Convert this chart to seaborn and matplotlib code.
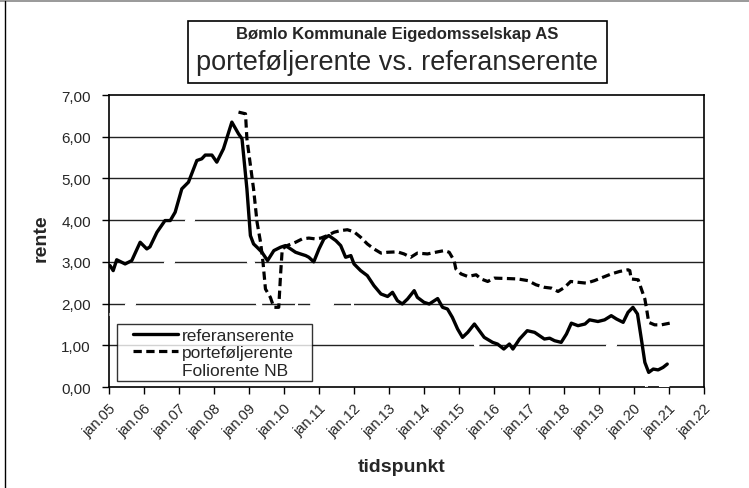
import matplotlib
matplotlib.use("Agg")
import matplotlib.pyplot as plt
from matplotlib.lines import Line2D
from matplotlib.legend_handler import HandlerLine2D
import seaborn as sns
import pandas as pd

# ---------------- data ----------------
ref_t = [2005.03, 2005.12, 2005.22, 2005.46, 2005.65, 2005.89, 2006.08, 2006.17, 2006.37, 2006.6,
         2006.75, 2006.89, 2007.08, 2007.27, 2007.51, 2007.65, 2007.75, 2007.94, 2008.08, 2008.27,
         2008.51, 2008.7, 2008.8, 2008.94, 2009.04, 2009.13, 2009.23, 2009.37, 2009.53, 2009.71,
         2009.9, 2010.04, 2010.19, 2010.33, 2010.47, 2010.62, 2010.71, 2010.85, 2011.0, 2011.14,
         2011.28, 2011.48, 2011.62, 2011.76, 2011.91, 2012.0, 2012.19, 2012.38, 2012.57, 2012.77,
         2012.96, 2013.1, 2013.24, 2013.38, 2013.53, 2013.72, 2013.81, 2014.0, 2014.15, 2014.39,
         2014.53, 2014.67, 2014.81, 2014.96, 2015.1, 2015.25, 2015.44, 2015.58, 2015.72, 2015.96,
         2016.1, 2016.28, 2016.44, 2016.54, 2016.73, 2016.95, 2017.16, 2017.3, 2017.44, 2017.59,
         2017.73, 2017.92, 2018.07, 2018.21, 2018.4, 2018.6, 2018.73, 2018.97, 2019.16, 2019.35,
         2019.5, 2019.69, 2019.83, 2019.97, 2020.1, 2020.21, 2020.31, 2020.42, 2020.55, 2020.69,
         2020.83, 2020.95]
ref_v = [2.91, 2.79, 3.05, 2.95, 3.03, 3.47, 3.31, 3.36, 3.71, 3.99,
         3.99, 4.19, 4.75, 4.91, 5.43, 5.47, 5.56, 5.56, 5.39, 5.71,
         6.35, 6.07, 5.95, 4.75, 3.63, 3.43, 3.35, 3.23, 3.03, 3.27,
         3.35, 3.39, 3.31, 3.23, 3.19, 3.15, 3.11, 3.00, 3.31, 3.55,
         3.63, 3.51, 3.39, 3.11, 3.15, 2.95, 2.79, 2.67, 2.43, 2.23,
         2.17, 2.27, 2.07, 1.99, 2.11, 2.31, 2.15, 2.03, 1.99, 2.12,
         1.91, 1.87, 1.67, 1.39, 1.19, 1.31, 1.51, 1.35, 1.19, 1.07,
         1.03, 0.91, 1.03, 0.91, 1.15, 1.35, 1.31, 1.23, 1.15, 1.17,
         1.11, 1.07, 1.27, 1.53, 1.47, 1.51, 1.61, 1.57, 1.61, 1.71,
         1.63, 1.55, 1.79, 1.91, 1.75, 1.15, 0.59, 0.35, 0.43, 0.41,
         0.47, 0.55]

port_t = [2008.7, 2008.9, 2008.94, 2009.13, 2009.23, 2009.33, 2009.4, 2009.47, 2009.61, 2009.71,
          2009.85, 2009.9, 2009.95, 2010.09, 2010.33, 2010.52, 2010.71, 2010.9, 2011.05, 2011.24,
          2011.43, 2011.62, 2011.81, 2012.0, 2012.19, 2012.38, 2012.57, 2012.77, 2012.96, 2013.24,
          2013.43, 2013.62, 2013.81, 2014.1, 2014.39, 2014.58, 2014.72, 2014.86, 2014.91, 2015.06,
          2015.25, 2015.49, 2015.63, 2015.82, 2016.01, 2016.39, 2016.68, 2016.97, 2017.2, 2017.44,
          2017.64, 2017.83, 2018.02, 2018.19, 2018.4, 2018.64, 2018.87, 2019.11, 2019.35, 2019.59,
          2019.83, 2019.88, 2019.92, 2020.12, 2020.21, 2020.31, 2020.36, 2020.42, 2020.59, 2020.78,
          2021.02]
port_v = [6.59, 6.55, 5.95, 4.75, 3.95, 3.47, 2.99, 2.35, 2.15, 1.91,
          1.91, 2.67, 3.31, 3.39, 3.47, 3.55, 3.57, 3.55, 3.57, 3.63,
          3.71, 3.75, 3.77, 3.72, 3.59, 3.43, 3.31, 3.21, 3.23, 3.24,
          3.19, 3.11, 3.21, 3.19, 3.24, 3.27, 3.23, 3.03, 2.83, 2.71,
          2.65, 2.69, 2.59, 2.53, 2.61, 2.60, 2.59, 2.55, 2.45, 2.39,
          2.37, 2.29, 2.39, 2.53, 2.51, 2.49, 2.55, 2.63, 2.71, 2.77,
          2.81, 2.79, 2.59, 2.57, 2.35, 2.11, 1.87, 1.55, 1.49, 1.49,
          1.53]

folio_t = [2005.0, 2005.49, 2005.72, 2006.2, 2006.41, 2006.6, 2006.84, 2006.95, 2007.06, 2007.2,
           2007.41, 2007.49, 2007.62, 2007.83, 2007.95, 2008.48, 2008.79, 2008.83, 2008.96, 2009.1,
           2009.24, 2009.36, 2009.46, 2009.82, 2010.35, 2011.36, 2011.95, 2012.2, 2014.95, 2015.46,
           2015.73, 2016.2, 2018.73, 2019.22, 2019.47, 2019.73, 2020.2, 2020.22, 2020.35, 2021.0]
folio_v = [1.75, 2.00, 2.25, 2.50, 2.75, 3.00, 3.25, 3.50, 3.75, 4.00,
           4.25, 4.50, 4.75, 5.00, 5.25, 5.75, 5.25, 4.75, 3.00, 2.50,
           2.00, 1.50, 1.25, 1.50, 2.00, 2.25, 1.75, 1.50, 1.25, 1.00,
           0.75, 0.50, 0.75, 1.00, 1.25, 1.50, 1.00, 0.25, 0.00, 0.00]

tick_years = list(range(2005, 2023))
tick_labels = ["jan.%02d" % (y % 100) for y in tick_years]
y_ticks = [0, 1, 2, 3, 4, 5, 6, 7]
y_labels = ["%d,00" % v for v in y_ticks]

title1 = "Bømlo Kommunale Eigedomsselskap AS"
title2 = "porteføljerente vs. referanserente"

# ---------------- style ----------------
sns.set_theme(style="white")
plt.rcParams["font.family"] = ["Liberation Sans", "DejaVu Sans"]

W, H = 749, 489
AX_L, AX_R, AX_T, AX_B = 109, 704, 96, 388
fig = plt.figure(figsize=(W / 100, H / 100), dpi=100)
ax = fig.add_axes([AX_L / W, 1 - AX_B / H, (AX_R - AX_L) / W, (AX_B - AX_T) / H])
ax.set_facecolor("white")

ref_df = pd.DataFrame({"t": ref_t, "v": ref_v})
port_df = pd.DataFrame({"t": port_t, "v": port_v})
folio_df = pd.DataFrame({"t": folio_t, "v": folio_v})

DASH = (2.6, 1.4)

# gridlines
for v in y_ticks[1:-1]:
    ax.axhline(v, color="#222222", lw=1.0, zorder=1)

# Foliorente NB: white long dashes (only visible as gaps in the grid)
ax.plot(folio_df["t"], folio_df["v"], drawstyle="steps-post", color="white",
        lw=2.2, dashes=(12, 4), zorder=2.6)

sns.lineplot(data=ref_df, x="t", y="v", ax=ax, color="black", lw=2.4,
             zorder=3, estimator=None, sort=False, legend=False)
sns.lineplot(data=port_df, x="t", y="v", ax=ax, color="black", lw=2.3,
             zorder=3, estimator=None, sort=False, legend=False)
ax.lines[-1].set_dashes(DASH)

ax.set_xlim(2005, 2022)
ax.set_ylim(0, 7)
ax.set_xticks(tick_years)
ax.set_xticklabels(tick_labels, rotation=45, ha="right", rotation_mode="anchor", fontsize=10.5)
ax.set_yticks(y_ticks)
ax.set_yticklabels(y_labels, fontsize=11)
ax.tick_params(axis="both", which="major", direction="out", length=5, width=1,
               color="black", bottom=True, left=True)
ax.tick_params(axis="x", pad=5)
ax.tick_params(axis="y", pad=8)
for s in ax.spines.values():
    s.set_color("black")
    s.set_linewidth(1.2)
    s.set_visible(True)

ax.set_xlabel("tidspunkt", fontsize=14, fontweight="bold")
ax.set_ylabel("rente", fontsize=14, fontweight="bold")
ax.xaxis.set_label_coords((402 - AX_L) / (AX_R - AX_L), -(468 - AX_B) / (AX_B - AX_T))
ax.xaxis.label.set_va("center")
ax.yaxis.set_label_coords(-(AX_L - 41) / (AX_R - AX_L), (AX_B - 238) / (AX_B - AX_T))
ax.yaxis.label.set_va("center")

# legend
FS = 12.5
handles = [Line2D([], [], color="black", lw=2.4),
           Line2D([], [], color="black", lw=2.3, dashes=DASH),
           Line2D([], [], color="white", lw=2.2)]
hm = {h: HandlerLine2D(xpad=0.72) for h in handles}
leg_x0 = (117 - AX_L) / (AX_R - AX_L)
leg_y0 = (AX_B - 382) / (AX_B - AX_T)
leg_w = (312 - 117) / (AX_R - AX_L)
leg = ax.legend(handles, ["referanserente", "porteføljerente", "Foliorente NB"],
                handler_map=hm, loc="lower left", mode="expand",
                bbox_to_anchor=(leg_x0, leg_y0, leg_w, 0.2),
                fontsize=FS, frameon=True, fancybox=False, handlelength=3.31,
                handletextpad=0.23, borderpad=0.2, labelspacing=0.12, borderaxespad=0)
leg.get_frame().set_edgecolor("black")
leg.get_frame().set_linewidth(1.0)
leg.set_zorder(5)

# title box
fig.text(397 / W, 1 - 35 / H, title1, ha="center", va="center", fontsize=12, fontweight="bold")
fig.text(397 / W, 1 - 63 / H, title2, ha="center", va="center", fontsize=19.5)
fig.patches.append(plt.Rectangle((188 / W, 1 - 84 / H), (607 - 188) / W, (84 - 22) / H,
                                 transform=fig.transFigure, fill=False, edgecolor="black", lw=1.2))

# outer chart frame fragments
fig.add_artist(Line2D([0, 1], [1 - 2 / H, 1 - 2 / H], transform=fig.transFigure, color="#888888", lw=1.2))
fig.add_artist(Line2D([4.5 / W, 4.5 / W], [0, 1 - 2 / H], transform=fig.transFigure, color="black", lw=1.0))

fig.savefig("out.png", dpi=100, facecolor="white")
